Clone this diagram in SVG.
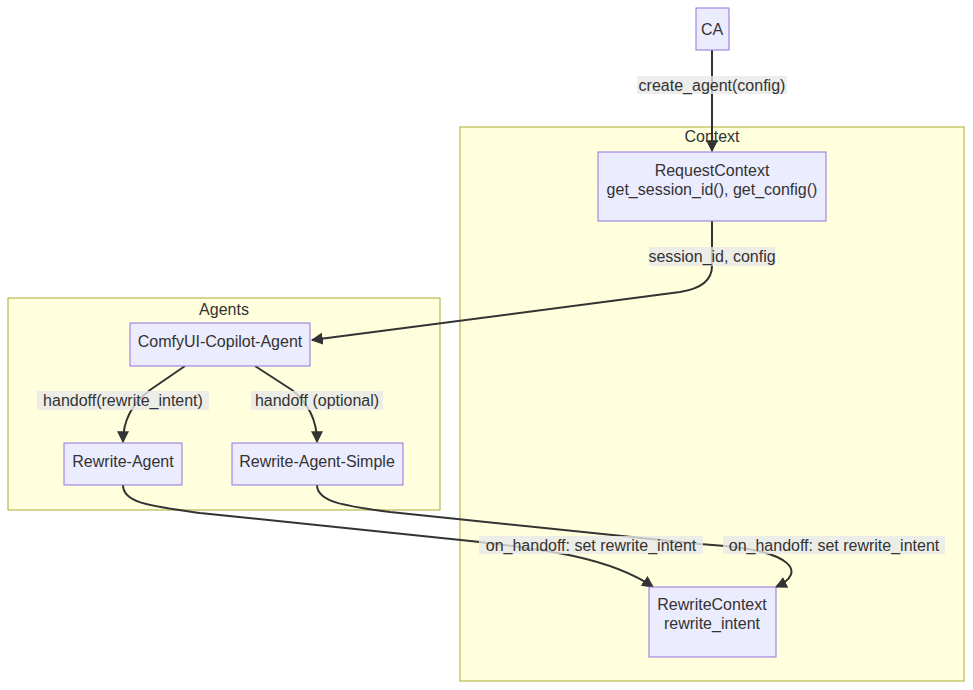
<svg xmlns="http://www.w3.org/2000/svg" width="973" height="690" viewBox="0 0 973 690">
<style>
.cluster{fill:#ffffde;stroke:#aaaa33;stroke-width:1}
.node rect{fill:#ececff;stroke:#9370db;stroke-width:1}
text{font-family:"Liberation Sans",Arial,sans-serif;font-size:16px;fill:#333;text-anchor:middle;dominant-baseline:central}
.edge{fill:none;stroke:#333;stroke-width:2}
.lbl rect{fill:#e8e8e8;fill-opacity:0.8;stroke:none}
</style>
<defs>
<marker id="arr" viewBox="0 0 10 10" refX="9" refY="5" markerWidth="12" markerHeight="12" markerUnits="userSpaceOnUse" orient="auto">
<path d="M0,0 L10,5 L0,10 z" fill="#333"/>
</marker>
</defs>
<g id="clusters">
<g id="cluster-Context"><rect class="cluster" x="460" y="127" width="504" height="554"/><text x="712" y="136">Context</text></g>
<g id="cluster-Agents"><rect class="cluster" x="8" y="298" width="432" height="212"/><text x="224" y="309">Agents</text></g>
</g>
<g id="connectors">
<path class="edge" d="M712,50 L712,151" marker-end="url(#arr)"/>
<path class="edge" d="M712,221 L712,266 Q712,287 680,292 L312,340" marker-end="url(#arr)"/>
<path class="edge" d="M185,366 L150,390 Q123,410 123,442" marker-end="url(#arr)"/>
<path class="edge" d="M255,366 L292,390 Q317,410 317,442" marker-end="url(#arr)"/>
<path class="edge" d="M123,485 C123,503 150,506 200,513 L480,542 C540,549 610,557 653,587" marker-end="url(#arr)"/>
<path class="edge" d="M317,485 C317,502 345,506 390,512 L700,544 L725,546 C790,552 808,572 776,587" marker-end="url(#arr)"/>
</g>
<g id="edge-labels">
<g class="lbl"><rect x="637" y="76" width="150" height="18"/><text x="712" y="85">create_agent(config)</text></g>
<g class="lbl"><rect x="649" y="247" width="126" height="19"/><text x="712" y="256">session_id, config</text></g>
<g class="lbl"><rect x="37" y="391" width="172" height="19"/><text x="123" y="400">handoff(rewrite_intent)</text></g>
<g class="lbl"><rect x="251" y="391" width="132" height="19"/><text x="317" y="400">handoff (optional)</text></g>
<g class="lbl"><rect x="479" y="536" width="224" height="18"/><text x="591" y="545">on_handoff: set rewrite_intent</text></g>
<g class="lbl"><rect x="723" y="536" width="222" height="18"/><text x="834" y="545">on_handoff: set rewrite_intent</text></g>
</g>
<g id="CA" class="node"><rect x="696" y="8" width="33" height="42"/><text x="712" y="29">CA</text></g>
<g id="RequestContext" class="node"><rect x="598" y="152" width="228" height="69"/><text x="712" y="170">RequestContext</text><text x="712" y="189">get_session_id(), get_config()</text></g>
<g id="ComfyUI-Copilot-Agent" class="node"><rect x="130" y="323" width="180" height="43"/><text x="220" y="341">ComfyUI-Copilot-Agent</text></g>
<g id="Rewrite-Agent" class="node"><rect x="64" y="443" width="118" height="42"/><text x="123" y="461">Rewrite-Agent</text></g>
<g id="Rewrite-Agent-Simple" class="node"><rect x="232" y="443" width="171" height="42"/><text x="317" y="461">Rewrite-Agent-Simple</text></g>
<g id="RewriteContext" class="node"><rect x="649" y="587" width="127" height="70"/><text x="712" y="604">RewriteContext</text><text x="712" y="623">rewrite_intent</text></g>
</svg>
